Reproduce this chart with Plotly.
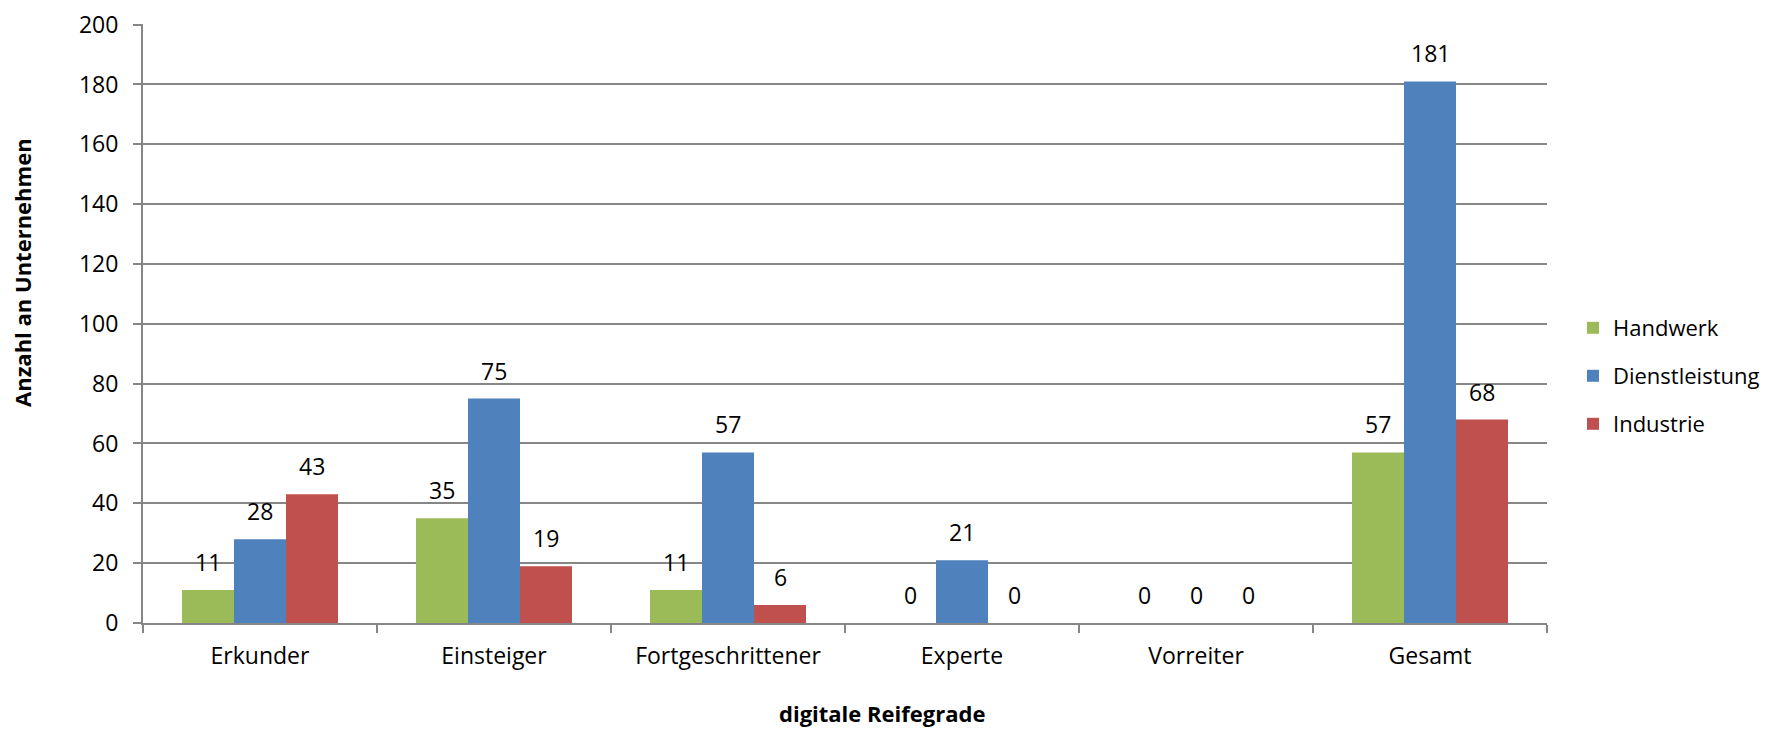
import plotly.graph_objects as go

categories = ["Erkunder", "Einsteiger", "Fortgeschrittener", "Experte", "Vorreiter", "Gesamt"]
handwerk = [11, 35, 11, 0, 0, 57]
dienstleistung = [28, 75, 57, 21, 0, 181]
industrie = [43, 19, 6, 0, 0, 68]
series_names = ["Handwerk", "Dienstleistung", "Industrie"]
series_values = [handwerk, dienstleistung, industrie]
colors = ["#9BBB59", "#4F81BD", "#C0504D"]
y_ticks = list(range(0, 201, 20))

# page has an 8px body margin; figure is sized to fill the rest of the window
OFF = 8
W, H = 1771 - OFF, 730 - OFF
L, R, T, B = 143 - OFF, 224, 24 - OFF, 107
plot_w = W - L - R
plot_h = H - T - B
FONT = "Open Sans, Noto Sans, sans-serif"
FS = 23
GRID = "#868686"
BARGAP = 1 / 3

fig = go.Figure()
legend_names = ["legend", "legend2", "legend3"]
for name, vals, col, lg in zip(series_names, series_values, colors, legend_names):
    fig.add_trace(go.Bar(
        x=categories, y=vals, name=name,
        marker=dict(color=col, line=dict(width=0)),
        legend=lg,
    ))

# data labels
bar_px = plot_w / len(categories) * (1 - BARGAP) / len(series_names)
annotations = []
for i, vals in enumerate(series_values):
    for c, v in zip(categories, vals):
        annotations.append(dict(
            x=c, y=v, xref="x", yref="y", text=str(v), showarrow=False,
            xshift=(i - 1) * bar_px, yshift=28, yanchor="middle", xanchor="center",
            font=dict(family=FONT, size=FS, color="#000000"),
        ))

def px_to_paper_x(px):
    return (px - OFF - L) / plot_w

def px_to_paper_y(py):
    return (H - B - (py - OFF)) / plot_h

annotations.append(dict(
    text="<b>Anzahl an Unternehmen</b>", xref="paper", yref="paper",
    x=px_to_paper_x(22), y=px_to_paper_y(273), textangle=-90, showarrow=False,
    xanchor="center", yanchor="middle",
    font=dict(family=FONT, size=22, color="#000000"),
))
annotations.append(dict(
    text="<b>digitale Reifegrade</b>", xref="paper", yref="paper",
    x=px_to_paper_x(882), y=px_to_paper_y(713), showarrow=False,
    xanchor="center", yanchor="middle",
    font=dict(family=FONT, size=22, color="#000000"),
))

legend_rows = [328, 376, 424]
leg_common = dict(xref="paper", yref="paper", xanchor="left", yanchor="middle",
                  font=dict(family=FONT, size=22, color="#000000"),
                  bgcolor="rgba(0,0,0,0)", borderwidth=0)
leg_x = px_to_paper_x(1573)

fig.update_layout(
    width=W, height=H,
    margin=dict(l=L, r=R, t=T, b=B, pad=0, autoexpand=False),
    paper_bgcolor="white", plot_bgcolor="white",
    barmode="group", bargap=BARGAP, bargroupgap=0,
    showlegend=True,
    legend=dict(x=leg_x, y=px_to_paper_y(legend_rows[0]), **leg_common),
    legend2=dict(x=leg_x, y=px_to_paper_y(legend_rows[1]), **leg_common),
    legend3=dict(x=leg_x, y=px_to_paper_y(legend_rows[2]), **leg_common),
    annotations=annotations,
    font=dict(family=FONT, size=FS, color="#000000"),
    xaxis=dict(
        type="category", categoryorder="array", categoryarray=categories,
        automargin=False,
        showline=True, linecolor=GRID, linewidth=2,
        ticks="outside", tickson="boundaries", ticklen=8, tickwidth=2, tickcolor=GRID,
        showgrid=False, ticklabelstandoff=11,
        tickfont=dict(family=FONT, size=FS, color="#000000"),
    ),
    yaxis=dict(
        range=[0, 200.2], tickvals=y_ticks, ticktext=[str(t) for t in y_ticks],
        automargin=False, ticklabeloverflow="allow",
        showline=True, linecolor=GRID, linewidth=2,
        showgrid=True, gridcolor=GRID, gridwidth=2,
        ticks="outside", ticklen=8, tickwidth=2, tickcolor=GRID,
        ticklabelstandoff=10, zeroline=False,
        tickfont=dict(family=FONT, size=FS, color="#000000"),
    ),
)

fig.write_html("out.html")
